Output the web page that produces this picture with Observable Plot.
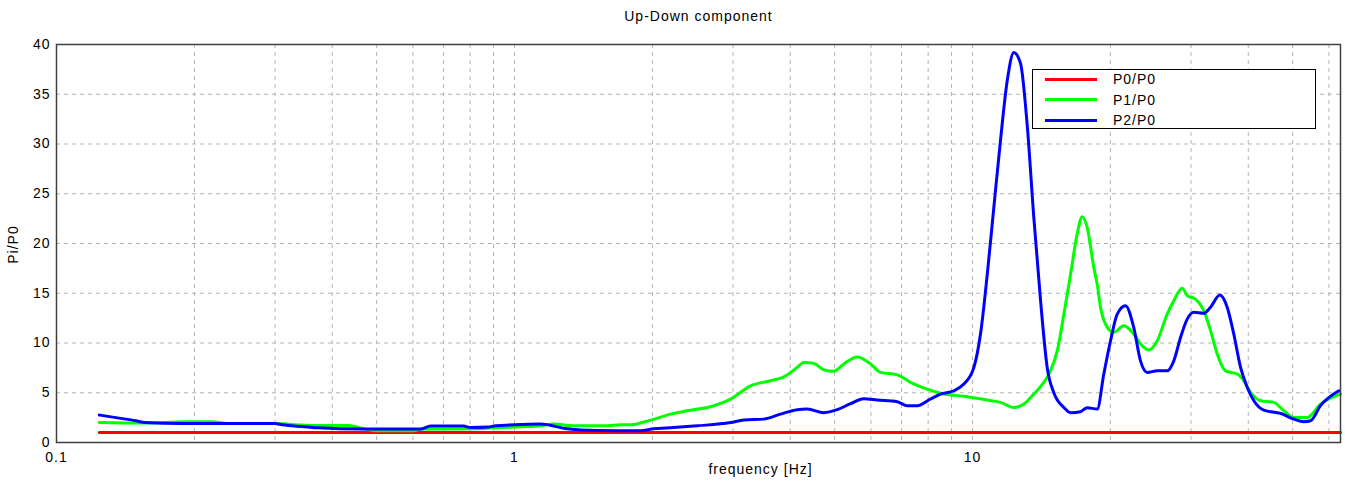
<!DOCTYPE html>
<html>
<head>
<meta charset="utf-8">
<script src="https://cdn.jsdelivr.net/npm/d3@7"></script>
<script src="https://cdn.jsdelivr.net/npm/@observablehq/plot@0.6"></script>
<style>
  html, body { margin: 0; padding: 0; background: #fff; }
  #wrap { position: relative; width: 1345px; height: 485px; font-family: "Liberation Sans", Arial, sans-serif; }
  #legend { position: absolute; left: 1032px; top: 69px; width: 284px; height: 60px; border: 1px solid #000; background: #fff; box-sizing: border-box; }
  #legend .row { position: absolute; left: 0; height: 20px; display: flex; align-items: center; font-size: 14px; color: #000; letter-spacing: 1px; }
  #legend .sw { width: 52px; height: 3px; margin-left: 12px; margin-right: 16px; }
</style>
</head>
<body>
<div id="wrap"></div>
<script>
// ---- data ----
const title = "Up-Down component";
const xLabel = "frequency [Hz]";
const yLabel = "Pi/P0";
const seriesNames = ["P0/P0", "P1/P0", "P2/P0"];
const seriesColors = ["#ff0000", "#00ff00", "#0000ff"];

const xTickValues = [0.1, 1, 10];
const xTickLabels = ["0.1", "1", "10"];
const xGridValues = [0.2, 0.3, 0.4, 0.5, 0.6, 0.7, 0.8, 0.9, 1, 2, 3, 4, 5, 6, 7, 8, 9, 10, 20, 30, 40, 50, 60];
const yTickValues = [0, 5, 10, 15, 20, 25, 30, 35, 40];
const yGridValues = [5, 10, 15, 20, 25, 30, 35];

const freqP0 = [0.124, 63.6];
const valP0 = [1, 1];

const freqP1 = [0.124, 0.155, 0.191, 0.218, 0.24, 0.30, 0.344, 0.373, 0.434, 0.466, 0.497, 0.602, 0.63, 0.696, 0.834, 0.923, 1.031, 1.14, 1.217, 1.345, 1.594, 1.704, 1.792, 1.982, 2.191, 2.423, 2.679, 2.962, 3.275, 3.622, 3.873, 4.143, 4.282, 4.503, 4.735, 4.979, 5.236, 5.601, 5.988, 6.296, 6.848, 7.321, 7.962, 8.514, 9.737, 10.77, 11.51, 12.31, 12.94, 13.61, 14.31, 14.80, 15.31, 15.83, 16.37, 16.93, 17.36, 17.80, 18.40, 18.72, 19.03, 19.68, 20.35, 21.39, 22.49, 23.27, 24.26, 25.31, 26.61, 27.51, 28.70, 29.43, 30.68, 31.99, 33.09, 34.22, 35.67, 37.84, 39.12, 40.46, 42.55, 45.50, 47.84, 50.30, 53.81, 57.52, 63.6];
const valP1 = [2.0, 1.95, 2.08, 2.08, 1.9, 1.9, 1.75, 1.7, 1.7, 1.4, 1.18, 1.18, 1.35, 1.35, 1.38, 1.5, 1.58, 1.68, 1.85, 1.68, 1.68, 1.78, 1.78, 2.25, 2.85, 3.25, 3.6, 4.36, 5.7, 6.2, 6.6, 7.55, 8.05, 7.95, 7.3, 7.15, 7.9, 8.6, 7.9, 7.05, 6.8, 6.05, 5.37, 4.95, 4.6, 4.27, 4.03, 3.52, 3.86, 4.87, 6.04, 7.2, 9.2, 12.9, 16.9, 21.0, 22.7, 21.6, 17.6, 15.9, 13.6, 11.6, 11.07, 11.74, 10.9, 9.9, 9.3, 10.23, 12.9, 14.25, 15.5, 14.76, 14.4, 13.25, 11.24, 8.9, 7.2, 6.88, 6.2, 5.03, 4.2, 4.03, 3.19, 2.52, 2.52, 3.86, 4.87];

const freqP2 = [0.124, 0.137, 0.149, 0.156, 0.187, 0.30, 0.311, 0.344, 0.373, 0.466, 0.623, 0.656, 0.774, 0.802, 0.877, 0.909, 1.031, 1.14, 1.303, 1.394, 1.676, 1.884, 2.011, 2.224, 2.506, 2.962, 3.167, 3.503, 3.808, 4.143, 4.356, 4.735, 5.065, 5.416, 5.790, 6.195, 6.848, 7.201, 7.572, 8.096, 8.514, 9.104, 9.572, 10.07, 10.41, 10.77, 11.13, 11.51, 11.91, 12.31, 12.73, 13.16, 13.61, 14.08, 14.56, 15.05, 15.83, 16.37, 17.21, 17.80, 18.72, 19.35, 20.01, 20.70, 21.58, 22.49, 23.27, 24.07, 25.31, 26.61, 27.51, 28.46, 29.43, 30.42, 31.99, 33.09, 34.67, 35.98, 37.19, 38.48, 39.80, 41.14, 43.25, 47.04, 50.30, 52.89, 54.70, 57.52, 63.06];
const valP2 = [2.76, 2.45, 2.18, 2.0, 1.9, 1.9, 1.78, 1.6, 1.48, 1.35, 1.35, 1.65, 1.65, 1.5, 1.55, 1.68, 1.8, 1.85, 1.38, 1.25, 1.18, 1.18, 1.38, 1.5, 1.68, 2.0, 2.25, 2.35, 2.85, 3.3, 3.36, 3.0, 3.3, 3.9, 4.4, 4.27, 4.1, 3.7, 3.7, 4.37, 4.87, 5.2, 5.87, 7.55, 10.9, 16.9, 23.6, 30.35, 36.4, 39.2, 38.1, 32.0, 22.6, 14.25, 7.5, 5.0, 3.52, 3.0, 3.1, 3.5, 3.36, 6.88, 10.2, 12.9, 13.75, 11.57, 8.2, 7.04, 7.2, 7.2, 8.2, 10.56, 12.4, 13.08, 12.98, 13.6, 14.83, 13.6, 10.9, 7.55, 5.53, 4.2, 3.26, 2.92, 2.35, 2.08, 2.18, 3.7, 5.2];

// ---- build tables ----
const toRows = (fs, vs) => fs.map((f, i) => ({f, v: vs[i]}));
const rowsP0 = toRows(freqP0, valP0);
const rowsP1 = toRows(freqP1, valP1);
const rowsP2 = toRows(freqP2, valP2);

const gridStyle = {stroke: "#b4b4b4", strokeOpacity: 1, strokeWidth: 1, strokeDasharray: "4,4"};

const chart = Plot.plot({
  width: 1345,
  height: 485,
  marginLeft: 56,
  marginRight: 5,
  marginTop: 44,
  marginBottom: 43,
  style: {fontFamily: "'Liberation Sans', Arial, sans-serif", fontSize: "14px", background: "#fff", color: "#000", overflow: "visible", letterSpacing: "1px"},
  x: {type: "log", domain: [0.1, 63.6]},
  y: {domain: [0, 40]},
  marks: [
    Plot.gridX(xGridValues, gridStyle),
    Plot.gridY(yGridValues, gridStyle),
    Plot.axisX(xTickValues, {tickSize: 0, tickPadding: 10, tickFormat: d => xTickLabels[xTickValues.indexOf(d)], label: null, fontSize: 14}),
    Plot.axisY(yTickValues, {tickSize: 0, tickPadding: 6, label: null, fontSize: 14}),
    Plot.line(rowsP0, {x: "f", y: "v", stroke: seriesColors[0], strokeWidth: 3}),
    Plot.line(rowsP1, {x: "f", y: "v", stroke: seriesColors[1], strokeWidth: 3, curve: "monotone-x"}),
    Plot.line(rowsP2, {x: "f", y: "v", stroke: seriesColors[2], strokeWidth: 3, curve: "monotone-x"}),
    Plot.frame({stroke: "#404040", strokeWidth: 1.5}),
    Plot.text([title], {frameAnchor: "top", lineAnchor: "middle", textAnchor: "middle", dy: -28, text: d => d, fontSize: 14, fill: "#000"}),
    Plot.text([xLabel], {frameAnchor: "bottom", lineAnchor: "middle", textAnchor: "middle", dx: 62, dy: 27, text: d => d, fontSize: 14, fill: "#000"}),
    Plot.text([yLabel], {frameAnchor: "left", lineAnchor: "middle", textAnchor: "middle", dx: -43, dy: 1, rotate: -90, text: d => d, fontSize: 14, fill: "#000"})
  ]
});

const wrap = document.getElementById("wrap");
wrap.appendChild(chart);

// legend overlay
const legend = document.createElement("div");
legend.id = "legend";
seriesNames.forEach((name, i) => {
  const row = document.createElement("div");
  row.className = "row";
  row.style.top = (-1 + i * 20.5) + "px";
  const sw = document.createElement("div");
  sw.className = "sw";
  sw.style.background = seriesColors[i];
  const lab = document.createElement("span");
  lab.textContent = name;
  row.appendChild(sw);
  row.appendChild(lab);
  legend.appendChild(row);
});
wrap.appendChild(legend);
</script>
</body>
</html>
